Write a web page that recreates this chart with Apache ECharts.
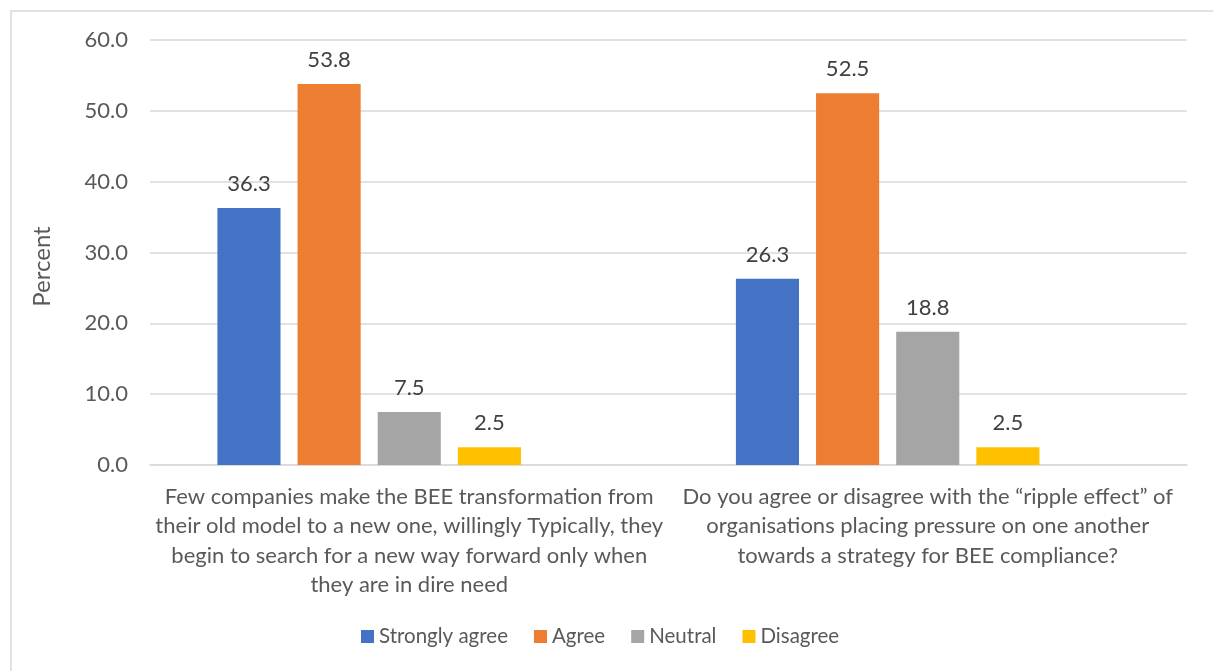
<!DOCTYPE html>
<html>
<head>
<meta charset="utf-8">
<script src="https://cdn.jsdelivr.net/npm/echarts@6/dist/echarts.min.js"></script>
<style>
  html, body { margin: 0; padding: 0; background: #fff; }
  #chart { width: 1213px; height: 671px; }
</style>
</head>
<body>
<div id="chart"></div>
<script>
// Survey statements (line breaks as laid out under each group)
const categories = [
  'Few companies make the BEE transformation from\ntheir old model to a new one, willingly Typically, they\nbegin to search for a new way forward only when\nthey are in dire need',
  'Do you agree or disagree with the \u201cripple effect\u201d of\norganisations placing pressure on one another\ntowards a strategy for BEE compliance?'
];
const seriesNames = ['Strongly agree', 'Agree', 'Neutral', 'Disagree', 'Strongly disagree'];
const stronglyAgree = [36.3, 26.3];
const agree = [53.8, 52.5];
const neutral = [7.5, 18.8];
const disagree = [2.5, 2.5];
const stronglyDisagree = [null, null];
const yTicks = [0, 10, 20, 30, 40, 50, 60];

const colors = ['#4472C4', '#ED7D31', '#A5A5A5', '#FFC000', '#5B9BD5'];
const values = [stronglyAgree, agree, neutral, disagree, stronglyDisagree];
const FONT = 'Lato';

const chart = echarts.init(document.getElementById('chart'));
chart.setOption({
  animation: false,
  textStyle: { fontFamily: FONT },
  graphic: [{
    type: 'rect',
    shape: { x: 11, y: 11, width: 1220, height: 680 },
    style: { fill: 'none', stroke: '#d9d9d9', lineWidth: 1.5 },
    silent: true
  }],
  grid: { left: 150, right: 26, top: 40, bottom: 206, containLabel: false },
  legend: {
    data: seriesNames.slice(0, 4),
    bottom: 19,
    left: 356,
    itemWidth: 13,
    itemHeight: 13,
    itemGap: 26,
    icon: 'rect',
    textStyle: { fontFamily: FONT, fontSize: 20.5, color: '#595959' }
  },
  xAxis: {
    type: 'category',
    data: categories,
    axisTick: { show: false },
    axisLine: { lineStyle: { color: '#d9d9d9', width: 1.5 } },
    axisLabel: {
      interval: 0,
      margin: 17,
      fontFamily: FONT,
      fontSize: 22,
      lineHeight: 29.5,
      color: '#595959',
      align: 'center'
    }
  },
  yAxis: {
    type: 'value',
    min: yTicks[0],
    max: yTicks[yTicks.length - 1],
    interval: 10,
    name: 'Percent',
    nameLocation: 'middle',
    nameGap: 96,
    nameRotate: 90,
    nameTextStyle: { fontFamily: FONT, fontSize: 24, color: '#595959', padding: [0, 28, 0, 0] },
    axisLine: { show: false },
    axisTick: { show: false },
    splitLine: { lineStyle: { color: '#d9d9d9', width: 1.5 } },
    axisLabel: {
      margin: 22,
      fontFamily: FONT,
      fontSize: 22,
      color: '#595959',
      formatter: v => v.toFixed(1)
    }
  },
  series: seriesNames.map((name, i) => ({
    name,
    type: 'bar',
    data: values[i],
    barGap: '27%',
    barCategoryGap: '26%',
    itemStyle: { color: colors[i] },
    label: {
      show: true,
      position: 'top',
      distance: 13,
      fontFamily: FONT,
      fontSize: 22,
      color: '#404040',
      formatter: p => (p.value == null ? '' : Number(p.value).toFixed(1))
    }
  }))
});
</script>
</body>
</html>
